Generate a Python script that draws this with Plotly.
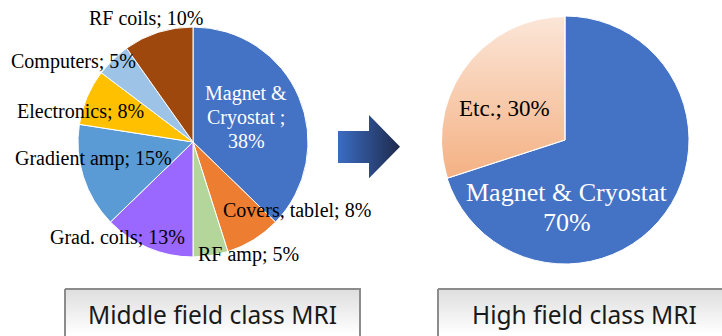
import numpy as np
import plotly.graph_objects as go

W, H = 722, 336

# Cost breakdown of a middle field class MRI system (%)
mid_names = ["Magnet & Cryostat ", "Covers, tablel", "RF amp", "Grad. coils",
             "Gradient amp", "Electronics", "Computers", "RF coils"]
mid_values = [38, 8, 5, 13, 15, 8, 5, 10]
mid_colors = ["#4472C4", "#ED7D31", "#B4D69B", "#9A68FE",
              "#5B9BD5", "#FFC000", "#9DC3E6", "#9E480E"]

# Cost breakdown of a high field class MRI system (%)
high_names = ["Magnet & Cryostat", "Etc."]
high_values = [70, 30]

box_titles = ["Middle field class MRI", "High field class MRI"]

# layout geometry (pixels)
L_CX, L_CY, L_R = 193, 142, 115
R_CX, R_CY, R_R = 565, 140, 124

# label anchor positions (pixels) for each slice label
mid_label_pos = [(246, 117), (297, 210), (248, 254), (117, 237),
                 (93, 158), (80, 111), (73, 61), (146, 18)]
high_label_pos = [(567, 207), (504, 108)]
high_label_size = [26, 23]

SERIF = "Liberation Serif, Times New Roman, serif"


def domain(cx, cy, r):
    return dict(x=[(cx - r) / W, (cx + r) / W],
                y=[(H - cy - r) / H, (H - cy + r) / H])


def text_lines(text, x, y, size, color, spacing):
    """One annotation per line so the line spacing can be set directly."""
    lines = text.split("<br>")
    n = len(lines)
    out = []
    for i, ln in enumerate(lines):
        out.append(dict(
            x=x, y=y + (i - (n - 1) / 2) * spacing, xref="x", yref="y",
            text=ln, showarrow=False, xanchor="center", yanchor="middle",
            font=dict(family=SERIF, size=size, color=color)))
    return out


fig = go.Figure()

# gradient backdrop seen through the "Etc." slice
th = np.linspace(0, 2 * np.pi, 361)
fig.add_trace(go.Scatter(
    x=R_CX + (R_R - 1) * np.cos(th), y=R_CY + (R_R - 1) * np.sin(th),
    mode="lines", line=dict(width=0), fill="toself",
    fillgradient=dict(type="vertical",
                      colorscale=[[0, "#FBE6D8"], [1, "#F4B183"]],
                      start=R_CY - R_R, stop=R_CY + 0.31 * R_R),
    hoverinfo="skip", showlegend=False))

# arrow between the two pies
ax = [338, 369, 369, 400, 369, 369, 338, 338]
ay = [131, 131, 115, 146.7, 178.3, 163, 163, 131]
fig.add_trace(go.Scatter(
    x=ax, y=ay, mode="lines", line=dict(width=0), fill="toself",
    fillgradient=dict(type="horizontal",
                      colorscale=[[0, "#3B6CC2"], [1, "#1E2A4C"]],
                      start=338, stop=400),
    hoverinfo="skip", showlegend=False))

# caption boxes
for x0, x1 in [(65, 360), (438, 731)]:
    fig.add_trace(go.Scatter(
        x=[x0, x1, x1, x0, x0], y=[289, 289, 345, 345, 289],
        mode="lines", line=dict(color="#8C8C8C", width=2), fill="toself",
        fillgradient=dict(type="vertical",
                          colorscale=[[0, "#DFDFDF"], [1, "#FFFFFF"]],
                          start=291, stop=334),
        hoverinfo="skip", showlegend=False))

fig.add_trace(go.Pie(
    values=mid_values, labels=mid_names, sort=False, direction="clockwise",
    rotation=0, textinfo="none", hoverinfo="skip", showlegend=False,
    marker=dict(colors=mid_colors, line=dict(color="white", width=1)),
    domain=domain(L_CX, L_CY, L_R)))

fig.add_trace(go.Pie(
    values=high_values, labels=high_names, sort=False, direction="clockwise",
    rotation=0, textinfo="none", hoverinfo="skip", showlegend=False,
    marker=dict(colors=["#4472C4", "rgba(0,0,0,0)"],
                line=dict(color="white", width=1)),
    domain=domain(R_CX, R_CY, R_R)))

annotations = []
mid_texts = [f"{n}; {v}%" for n, v in zip(mid_names, mid_values)]
mid_texts[0] = mid_texts[0].replace("& ", "&<br>").replace("; ", ";<br>")
for i, (t, (x, y)) in enumerate(zip(mid_texts, mid_label_pos)):
    annotations += text_lines(t, x, y, 20, "white" if i == 0 else "black", 23.5)

high_texts = [f"{high_names[0]}<br>{high_values[0]}%",
              f"{high_names[1]}; {high_values[1]}%"]
for i, (t, (x, y)) in enumerate(zip(high_texts, high_label_pos)):
    annotations += text_lines(t, x, y, high_label_size[i],
                              "white" if i == 0 else "black", 30)

for t, x in zip(box_titles, [212, 584]):
    annotations.append(dict(
        x=x, y=314, xref="x", yref="y", text=t, showarrow=False,
        xanchor="center", yanchor="middle",
        font=dict(family="Noto Sans, sans-serif", size=24.5, color="#1A1A1A")))

fig.update_layout(
    width=W, height=H, margin=dict(l=0, r=0, t=0, b=0),
    paper_bgcolor="white", plot_bgcolor="white",
    xaxis=dict(range=[0, W], visible=False, domain=[0, 1], fixedrange=True),
    yaxis=dict(range=[H, 0], visible=False, domain=[0, 1], fixedrange=True),
    annotations=annotations, showlegend=False)

fig.write_html("out.html", config=dict(displayModeBar=False))
